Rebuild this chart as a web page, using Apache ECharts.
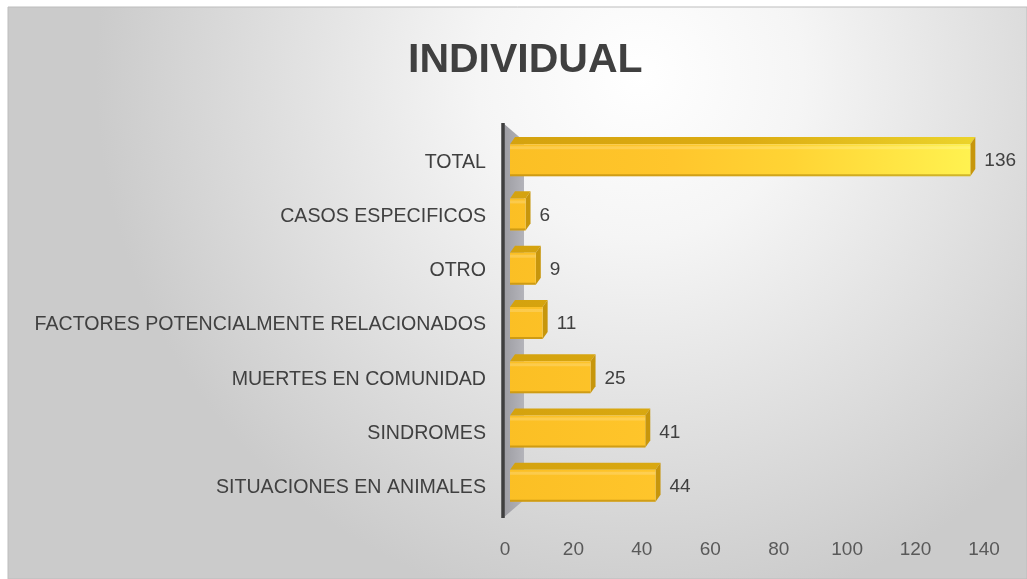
<!DOCTYPE html>
<html>
<head>
<meta charset="utf-8">
<script src="https://cdn.jsdelivr.net/npm/echarts@6/dist/echarts.min.js"></script>
<style>
  html, body { margin: 0; padding: 0; background: #ffffff; }
  #chart { width: 1027px; height: 579px; }
</style>
</head>
<body>
<div id="chart"></div>
<script>
const categories = [
  'TOTAL',
  'CASOS ESPECIFICOS',
  'OTRO',
  'FACTORES POTENCIALMENTE RELACIONADOS',
  'MUERTES EN COMUNIDAD',
  'SINDROMES',
  'SITUACIONES EN ANIMALES'
];
const values = [136, 6, 9, 11, 25, 41, 44];
const xMin = 0;
const xMax = 140;
const xStep = 20;

const textColor = '#404040';
const font = 'Liberation Sans';

const chart = echarts.init(document.getElementById('chart'));

// back wall + axis line, drawn once from the grid rect
function renderWall(params, api) {
  const cs = params.coordSys;
  const x0 = api.coord([xMin, 0])[0] - 2;
  const top = cs.y - 12;
  const bottom = cs.y + cs.height + 3;
  return {
    type: 'group',
    children: [
      {
        type: 'polygon',
        shape: { points: [[x0, top], [x0 + 21, top + 18], [x0 + 21, bottom - 18], [x0, bottom]] },
        style: {
          fill: new echarts.graphic.LinearGradient(0, 0, 1, 0, [
            { offset: 0, color: '#9c9ca2' },
            { offset: 1, color: '#b4b4ba' }
          ])
        }
      },
      {
        type: 'line',
        shape: { x1: x0, y1: top, x2: x0, y2: bottom },
        style: { stroke: '#3f3f3f', lineWidth: 3.5 }
      }
    ]
  };
}

function renderBar(params, api) {
  const val = api.value(0);
  const cat = api.value(1);
  const start = api.coord([xMin, cat]);
  const end = api.coord([val, cat]);
  const axisEnd = api.coord([xMax, cat]);
  const band = api.size([0, 1])[1];
  const h = band * 0.59;
  const d = band * 0.13;
  const dx = 5;
  const x0 = start[0] + 5;
  const x1 = end[0];
  const yc = start[1] - 2;
  const yTop = yc - h / 2;
  const yBot = yc + h / 2;

  const frontFill = new echarts.graphic.LinearGradient(start[0], 0, axisEnd[0], 0, [
    { offset: 0, color: '#fbbf24' },
    { offset: 0.35, color: '#ffc62c' },
    { offset: 0.6, color: '#ffd434' },
    { offset: 1, color: '#fff452' }
  ], true);
  const topFill = new echarts.graphic.LinearGradient(start[0], 0, axisEnd[0], 0, [
    { offset: 0, color: '#d4a20e' },
    { offset: 0.5, color: '#dcac12' },
    { offset: 1, color: '#ecd52c' }
  ], true);

  return {
    type: 'group',
    children: [
      {
        type: 'polygon',
        shape: { points: [[x0, yTop], [x0 + dx, yTop - d], [x1 + dx, yTop - d], [x1, yTop]] },
        style: { fill: topFill }
      },
      {
        type: 'polygon',
        shape: { points: [[x1, yTop], [x1 + dx, yTop - d], [x1 + dx, yBot - d], [x1, yBot]] },
        style: { fill: '#c7960c' }
      },
      {
        type: 'rect',
        shape: { x: x0, y: yTop, width: Math.max(x1 - x0, 1), height: h },
        style: { fill: frontFill }
      },
      {
        type: 'rect',
        shape: { x: x0, y: yTop + 2, width: Math.max(x1 - x0, 1), height: 3 },
        style: { fill: 'rgba(255,255,255,0.18)' }
      },
      {
        type: 'rect',
        shape: { x: x0, y: yBot - 2, width: Math.max(x1 - x0, 1), height: 2 },
        style: { fill: 'rgba(150,110,0,0.45)' }
      },
      {
        type: 'text',
        x: x1 + dx + 9,
        y: yc + 1,
        style: {
          text: String(val),
          fill: textColor,
          font: '19px "' + font + '"',
          verticalAlign: 'middle'
        }
      }
    ]
  };
}

const option = {
  animation: false,
  graphic: [
    {
      type: 'rect',
      z: -10,
      shape: { x: 8, y: 7, width: 1019, height: 572 },
      style: {
        fill: new echarts.graphic.RadialGradient(0.62, 0.12, 0.95, [
          { offset: 0, color: '#ffffff' },
          { offset: 0.3, color: '#f5f5f5' },
          { offset: 0.75, color: '#dadada' },
          { offset: 1, color: '#cbcbcb' }
        ]),
        stroke: '#bdbdbd',
        lineWidth: 1
      }
    }
  ],
  title: {
    text: 'INDIVIDUAL',
    left: 403,
    top: 35,
    textStyle: { fontFamily: font, fontSize: 41, fontWeight: 'bold', color: textColor }
  },
  grid: { left: 505, right: 43, top: 135, bottom: 64, containLabel: false },
  xAxis: {
    type: 'value',
    min: xMin,
    max: xMax,
    interval: xStep,
    axisLine: { show: false },
    axisTick: { show: false },
    splitLine: { show: false },
    axisLabel: { color: '#595959', fontFamily: font, fontSize: 19, margin: 25 }
  },
  yAxis: {
    type: 'category',
    inverse: true,
    data: categories,
    axisLine: { show: false },
    axisTick: { show: false },
    axisLabel: { color: textColor, fontFamily: font, fontSize: 19.6, margin: 19 }
  },
  series: [
    {
      type: 'custom',
      name: 'wall',
      renderItem: renderWall,
      data: [[0, 0]],
      z: 1,
      silent: true
    },
    {
      type: 'custom',
      name: 'INDIVIDUAL',
      renderItem: renderBar,
      encode: { x: 0, y: 1 },
      data: values.map((v, i) => [v, i]),
      z: 2
    }
  ]
};

chart.setOption(option);
window.addEventListener('resize', () => chart.resize());
</script>
</body>
</html>
